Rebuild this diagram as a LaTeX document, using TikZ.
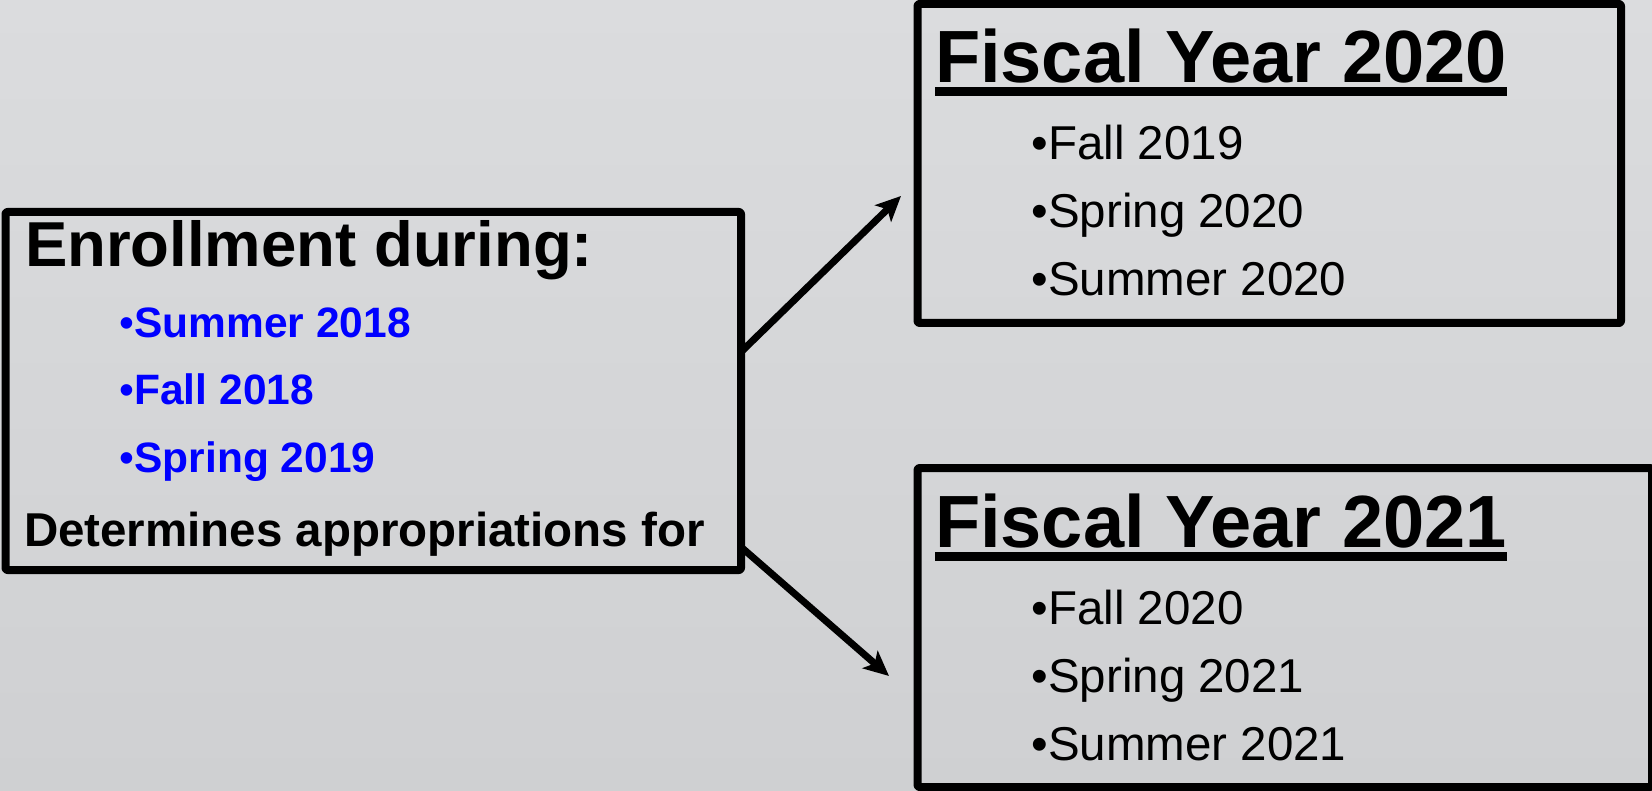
\documentclass[tikz,border=0pt]{standalone}
\usepackage{fontspec}
\setmainfont{Liberation Sans}
\usetikzlibrary{arrows.meta}
\definecolor{bgtop}{RGB}{219,220,222}
\definecolor{bgbot}{RGB}{207,208,210}
\definecolor{itemblue}{RGB}{0,0,255}
\begin{document}
\begin{tikzpicture}[x=1pt,y=-1pt,
  box/.style={draw, line width=8pt, rectangle, inner sep=0pt, outer sep=0pt, anchor=north west, line join=round, rounded corners=2pt},
  txt/.style={anchor=base west, inner sep=0pt, outer sep=0pt},
  fytitle/.style={txt, font=\fontsize{74}{80}\selectfont\bfseries},
  head/.style={txt, font=\fontsize{63.5}{70}\selectfont\bfseries},
  boldline/.style={txt, font=\fontsize{47.5}{52}\selectfont\bfseries},
  blueitem/.style={txt, text=itemblue, font=\fontsize{42.5}{48}\selectfont\bfseries},
  item/.style={txt, font=\fontsize{47.5}{52}\selectfont},
  arr/.style={-{Stealth[length=25pt,width=23pt,inset=6pt]}, line width=7pt},
  uline/.style={line width=9pt}
]
\useasboundingbox (0,0) rectangle (1652,791);
\fill[top color=bgtop, bottom color=bgbot] (0,0) rectangle (1652,791);

% boxes
\node[box, minimum width=735.5pt, minimum height=358pt] (lbox) at (5.5,212) {};
\node[box, minimum width=703.5pt, minimum height=319pt] (tbox) at (917.5,4) {};
\node[box, minimum width=734.5pt, minimum height=319pt] (bbox) at (917.5,468) {};

% left box text
\node[head] (enr) at (25,267) {Enrollment during:};
\node[blueitem] (b1) at (119.5,338) {{\mdseries •}Summer 2018};
\node[blueitem] (b2) at (119.5,405) {{\mdseries •}Fall 2018};
\node[blueitem] (b3) at (119.5,472) {{\mdseries •}Spring 2019};
\node[boldline] (det) at (24,546) {Determines appropriations for};

% top right box text
\node[fytitle] (fy1) at (935,83) {Fiscal Year 2020};
\draw[uline] ([yshift=-9pt]fy1.base west) -- ([yshift=-9pt]fy1.base east);
\node[item] (t1) at (1031.5,160) {•Fall 2019};
\node[item] (t2) at (1031.5,228) {•Spring 2020};
\node[item] (t3) at (1031.5,296) {•Summer 2020};

% bottom right box text
\node[fytitle] (fy2) at (935,547) {Fiscal Year 2021};
\draw[uline] ([yshift=-9pt]fy2.base west) -- ([yshift=-9pt]fy2.base east);
\node[item] (u1) at (1031.5,624) {•Fall 2020};
\node[item] (u2) at (1031.5,692) {•Spring 2021};
\node[item] (u3) at (1031.5,760) {•Summer 2021};

% arrows
\coordinate (tip1) at (901,196);
\coordinate (tip2) at (889,676);
\draw[arr] ([yshift=39pt]lbox.east) -- (tip1);
\draw[arr] ([yshift=-156pt]lbox.east) -- (tip2);
\end{tikzpicture}
\end{document}
